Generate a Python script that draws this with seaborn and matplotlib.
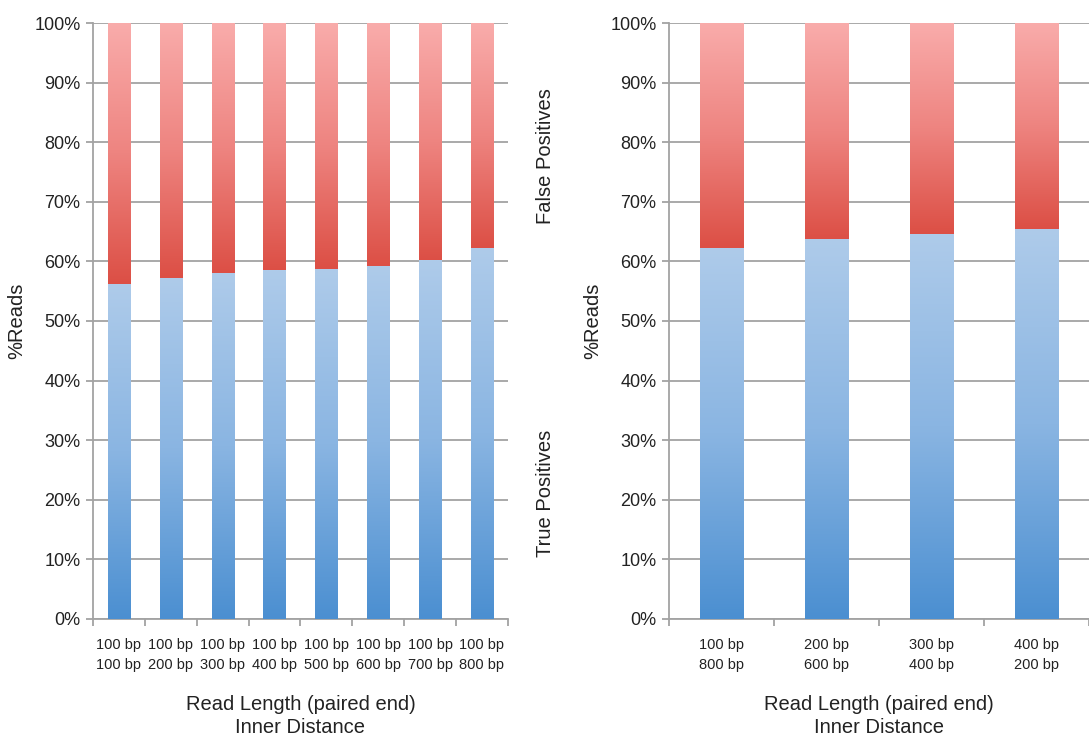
import numpy as np
import pandas as pd
import matplotlib
matplotlib.use("Agg")
import matplotlib.pyplot as plt
from matplotlib.colors import LinearSegmentedColormap
from matplotlib.ticker import FixedLocator, PercentFormatter
import seaborn as sns

# ---- data ----
left_labels = ["100 bp\n100 bp", "100 bp\n200 bp", "100 bp\n300 bp", "100 bp\n400 bp",
               "100 bp\n500 bp", "100 bp\n600 bp", "100 bp\n700 bp", "100 bp\n800 bp"]
left_tp = [56.2, 57.2, 57.9, 58.4, 58.7, 59.1, 60.1, 62.1]

right_labels = ["100 bp\n800 bp", "200 bp\n600 bp", "300 bp\n400 bp", "400 bp\n200 bp"]
right_tp = [62.2, 63.6, 64.6, 65.4]

sns.set_theme(style="white")
plt.rcParams['font.family'] = ['Liberation Sans', 'DejaVu Sans']

blue_cmap = LinearSegmentedColormap.from_list("tp", ["#4b8fd1", "#8ab5e2", "#aecbea"])
red_cmap = LinearSegmentedColormap.from_list("fp", ["#dc4f45", "#ee8480", "#f9acab"])
grid_col = "#a3a3a3"
text_col = "#222222"
grad = np.linspace(0, 1, 256).reshape(-1, 1)


def draw_panel(ax, labels, tp, width):
    df = pd.DataFrame({"cat": labels, "tp": tp, "total": [100.0] * len(tp)})
    sns.barplot(data=df, x="cat", y="total", color="#f08a86", width=width, ax=ax,
                saturation=1, zorder=2)
    sns.barplot(data=df, x="cat", y="tp", color="#8ab5e2", width=width, ax=ax,
                saturation=1, zorder=3)
    n = len(tp)
    patches = list(ax.patches)
    # first n patches are the full bars, last n are the true positives
    for i, p in enumerate(patches):
        x, w = p.get_x(), p.get_width()
        if i < n:
            y0, y1, cmap = tp[i], 100.0, red_cmap
        else:
            y0, y1, cmap = 0.0, p.get_height(), blue_cmap
        ax.imshow(grad, extent=[x, x + w, y0, y1], origin="lower", aspect="auto",
                  cmap=cmap, zorder=4, interpolation="bilinear")
        p.set_visible(False)
    ax.set_xlim(-0.5, n - 0.5)
    ax.set_ylim(0, 100)
    ax.set_yticks(np.arange(0, 101, 10))
    ax.yaxis.set_major_formatter(PercentFormatter(decimals=0))
    ax.grid(axis="y", color=grid_col, lw=1.3, zorder=1)
    ax.set_axisbelow(True)
    for s in ["top", "right"]:
        ax.spines[s].set_visible(False)
    for s in ["left", "bottom"]:
        ax.spines[s].set_color(grid_col)
        ax.spines[s].set_linewidth(1.3)
    ax.set_xticks(range(n))
    ax.set_xticklabels(labels, fontsize=10.5, linespacing=1.55)
    ax.xaxis.set_minor_locator(FixedLocator(np.arange(-0.5, n, 1.0)))
    ax.tick_params(axis="x", which="major", length=0, pad=14, colors=text_col)
    ax.tick_params(axis="x", which="minor", length=5, width=1.3, color=grid_col, bottom=True)
    ax.tick_params(axis="y", length=5, width=1.3, color=grid_col, left=True,
                   labelsize=13, labelcolor=text_col, pad=4)
    ax.set_xlabel("Read Length (paired end)\nInner Distance", fontsize=14.5,
                  color=text_col, labelpad=16, linespacing=1.3)
    ax.set_ylabel("%Reads", fontsize=14.5, color=text_col, labelpad=6)


fig = plt.figure(figsize=(10.89, 7.42), dpi=100)
ax1 = fig.add_axes([0.0854, 0.1658, 0.381, 0.8032])
ax2 = fig.add_axes([0.6143, 0.1658, 0.3857, 0.8032])

draw_panel(ax1, left_labels, left_tp, 0.43)
draw_panel(ax2, right_labels, right_tp, 0.41)

fig.text(0.5005, 0.79, "False Positives", rotation=90, ha="center", va="center",
         fontsize=14.5, color=text_col)
fig.text(0.5005, 0.335, "True Positives", rotation=90, ha="center", va="center",
         fontsize=14.5, color=text_col)

fig.savefig("out.png", dpi=100)
